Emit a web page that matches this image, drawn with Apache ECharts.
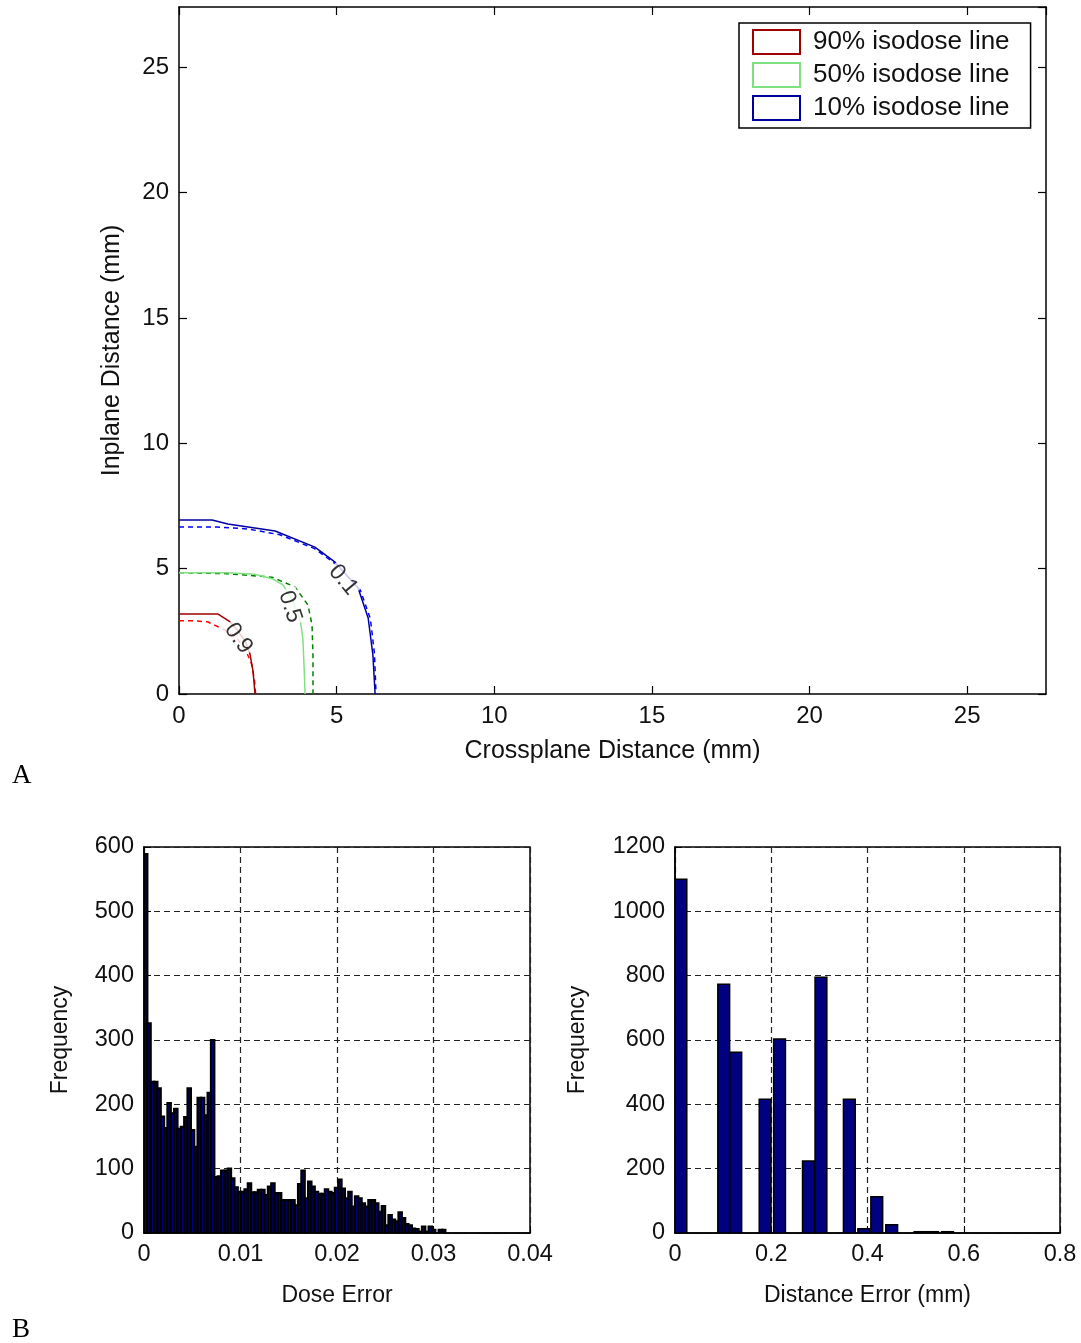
<!DOCTYPE html>
<html>
<head>
<meta charset="utf-8">
<script src="https://cdn.jsdelivr.net/npm/echarts@6/dist/echarts.min.js"></script>
<style>
  html, body { margin: 0; padding: 0; background: #fff; }
  #chart { width: 1081px; height: 1343px; }
</style>
</head>
<body>
<div id="chart"></div>
<script>
// isodose contours (x, y in mm), solid = calculated, dashed = measured
const iso90Solid = [[0, 3.19], [1.24, 3.19], [1.6, 2.9], [1.85, 2.55], [2.1, 2.1], [2.25, 1.6], [2.35, 0.9], [2.41, 0]];
const iso90Dashed = [[0, 2.92], [0.5, 2.92], [0.92, 2.87], [1.46, 2.55], [1.85, 2.2], [2.1, 1.8], [2.3, 1.2], [2.4, 0.5], [2.43, 0]];
const iso50Solid = [[0, 4.84], [1.5, 4.84], [2.4, 4.78], [2.95, 4.6], [3.3, 4.35], [3.62, 3.67], [3.84, 3.0], [3.93, 2.2], [3.97, 1.0], [4.0, 0]];
const iso50Dashed = [[0, 4.84], [1.5, 4.8], [2.95, 4.66], [3.68, 4.27], [4.09, 3.55], [4.22, 2.75], [4.25, 1.5], [4.25, 0]];
const iso10Solid = [[0, 6.94], [1.05, 6.94], [1.55, 6.78], [3.05, 6.5], [4.31, 5.86], [4.95, 5.26], [5.68, 4.23], [6.0, 3.03], [6.15, 1.56], [6.22, 0]];
const iso10Dashed = [[0, 6.66], [1.2, 6.66], [2.2, 6.58], [3.2, 6.35], [4.3, 5.8], [5.0, 5.15], [5.75, 4.15], [6.07, 3.0], [6.2, 1.6], [6.25, 0]];
const contourLabels = ['0.9', '0.5', '0.1'];
const contourLabelPos = [[1.88, 2.22], [3.52, 3.48], [5.21, 4.55]];
const legendNames = ['90% isodose line', '50% isodose line', '10% isodose line'];

// dose error histogram
const doseBinWidth = 0.000347;
const doseCounts = [589, 326, 235, 235, 225, 181, 163, 202, 186, 193,
  162, 165, 180, 225, 160, 134, 210, 210, 183, 218,
  300, 87, 88, 97, 97, 100, 85, 71, 64, 64,
  68, 77, 63, 63, 67, 67, 59, 72, 77, 62,
  62, 51, 51, 51, 51, 43, 76, 97, 54, 80,
  72, 64, 61, 61, 68, 64, 62, 70, 83, 69,
  54, 64, 41, 57, 54, 46, 41, 51, 51, 46,
  33, 42, 12, 28, 21, 18, 32, 23, 14, 12,
  7, 6, 2, 10, 2, 10, 5, 0, 5, 5];

// distance error histogram (bin left edge, count)
const distBinWidth = 0.0245;
const distLeft = [0, 0.089, 0.114, 0.175, 0.205, 0.265, 0.291, 0.35, 0.38, 0.407, 0.438, 0.497, 0.523, 0.554];
const distCounts = [1100, 773, 562, 416, 603, 224, 795, 416, 13, 113, 26, 4, 4, 4];

const font = "'Liberation Sans', Arial, sans-serif";
const chart = echarts.init(document.getElementById('chart'));

function histRender(width, edge) {
  return function (params, api) {
    const x0 = api.value(0);
    const v = api.value(1);
    const p0 = api.coord([x0, 0]);
    const p1 = api.coord([x0 + width, v]);
    return {
      type: 'rect',
      shape: { x: p0[0], y: p1[1], width: p1[0] - p0[0], height: p0[1] - p1[1] },
      style: { fill: '#000080', stroke: '#000', lineWidth: edge }
    };
  };
}

const axisLineStyle = { show: true, onZero: false, lineStyle: { color: '#000', width: 1.5 } };

function mainAxis(extra) {
  return Object.assign({
    type: 'value',
    axisLine: axisLineStyle,
    axisTick: { show: true, inside: true, length: 8, lineStyle: { color: '#000', width: 1.2 } },
    axisLabel: { color: '#111', fontFamily: font, fontSize: 24, margin: 10, showMaxLabel: false },
    splitLine: { show: false },
    nameLocation: 'middle',
    nameTextStyle: { color: '#111', fontFamily: font, fontSize: 25 }
  }, extra);
}

function mirrorAxis(extra) {
  return Object.assign({
    type: 'value',
    axisLine: axisLineStyle,
    axisTick: { show: true, inside: true, length: 8, lineStyle: { color: '#000', width: 1.2 } },
    axisLabel: { show: false },
    splitLine: { show: false }
  }, extra);
}

function histAxis(extra) {
  return Object.assign({
    type: 'value',
    axisLine: axisLineStyle,
    axisTick: { show: true, inside: true, length: 7, lineStyle: { color: '#000', width: 1 } },
    axisLabel: { color: '#111', fontFamily: font, fontSize: 23.5, margin: 10, formatter: v => String(v) },
    splitLine: { show: true, lineStyle: { color: '#222', width: 1.2, type: [6, 4] } },
    nameLocation: 'middle',
    nameTextStyle: { color: '#111', fontFamily: font, fontSize: 23 }
  }, extra);
}

function isoLine(name, data, color, dashed, z) {
  return {
    name: name,
    type: 'line',
    xAxisIndex: 0,
    yAxisIndex: 0,
    data: data,
    showSymbol: false,
    symbol: 'none',
    z: z,
    lineStyle: { color: color, width: 1.5, type: dashed ? [5, 4] : 'solid' },
    itemStyle: { color: color },
    silent: true
  };
}

const legendColors = ['#a00000', '#80e080', '#0000a0'];
const labelRotate = [-55, -72, -50];

const option = {
  backgroundColor: '#fff',
  animation: false,
  grid: [
    { left: 179, top: 7, width: 867, height: 687 },
    { left: 144, top: 847, width: 386, height: 386, show: true, borderColor: '#000', borderWidth: 1.5 },
    { left: 675, top: 847, width: 385, height: 386, show: true, borderColor: '#000', borderWidth: 1.5 }
  ],
  legend: {
    orient: 'vertical',
    left: 739,
    top: 23,
    padding: [6, 21, 7, 13],
    itemGap: 7,
    itemWidth: 47,
    itemHeight: 24,
    icon: 'rect',
    selectedMode: false,
    borderColor: '#000',
    borderWidth: 1.5,
    backgroundColor: '#fff',
    textStyle: { color: '#111', fontFamily: font, fontSize: 26, lineHeight: 26, padding: [0, 0, 0, 8] },
    data: legendNames.map((n, i) => ({
      name: n,
      itemStyle: { color: '#fff', borderColor: legendColors[i], borderWidth: 2 }
    }))
  },
  xAxis: [
    mainAxis({ gridIndex: 0, min: 0, max: 27.5, interval: 5, name: 'Crossplane Distance (mm)', nameGap: 45 }),
    mirrorAxis({ gridIndex: 0, position: 'top', min: 0, max: 27.5, interval: 5 }),
    histAxis({ gridIndex: 1, min: 0, max: 0.04, interval: 0.01, name: 'Dose Error', nameGap: 51 }),
    histAxis({ gridIndex: 2, min: 0, max: 0.8, interval: 0.2, name: 'Distance Error (mm)', nameGap: 51 })
  ],
  yAxis: [
    mainAxis({ gridIndex: 0, min: 0, max: 27.4, interval: 5, name: 'Inplane Distance (mm)', nameGap: 54 }),
    mirrorAxis({ gridIndex: 0, position: 'right', min: 0, max: 27.4, interval: 5 }),
    histAxis({ gridIndex: 1, min: 0, max: 600, interval: 100, name: 'Frequency', nameGap: 72 }),
    histAxis({ gridIndex: 2, min: 0, max: 1200, interval: 200, name: 'Frequency', nameGap: 86 })
  ],
  series: [
    isoLine('90% measured', iso90Dashed, '#ff0000', true, 2),
    isoLine(legendNames[0], iso90Solid, '#a00000', false, 3),
    isoLine('50% measured', iso50Dashed, '#008000', true, 2),
    isoLine(legendNames[1], iso50Solid, '#80e080', false, 3),
    isoLine('10% measured', iso10Dashed, '#0000ff', true, 2),
    isoLine(legendNames[2], iso10Solid, '#0000a0', false, 3),
    {
      type: 'scatter',
      xAxisIndex: 0,
      yAxisIndex: 0,
      symbolSize: 1,
      z: 5,
      silent: true,
      itemStyle: { color: 'rgba(0,0,0,0)' },
      data: contourLabels.map((t, i) => ({
        value: contourLabelPos[i],
        name: t,
        label: { rotate: labelRotate[i] }
      })),
      label: {
        show: true,
        position: 'inside',
        formatter: '{b}',
        color: '#000',
        fontFamily: font,
        fontSize: 23,
        backgroundColor: '#fff',
        padding: [0, 2]
      }
    },
    {
      type: 'custom',
      xAxisIndex: 2,
      yAxisIndex: 2,
      silent: true,
      clip: true,
      encode: { x: 0, y: 1 },
      renderItem: histRender(doseBinWidth, 2.2),
      data: doseCounts.map((c, i) => [i * doseBinWidth, c]).filter(d => d[1] > 0)
    },
    {
      type: 'custom',
      xAxisIndex: 3,
      yAxisIndex: 3,
      silent: true,
      clip: true,
      encode: { x: 0, y: 1 },
      renderItem: histRender(distBinWidth, 1.5),
      data: distLeft.map((x, i) => [x, distCounts[i]])
    }
  ],
  graphic: [
    { type: 'text', left: 12, top: 762, style: { text: 'A', fontFamily: "'Liberation Serif', 'Times New Roman', serif", fontSize: 27, fill: '#000' } },
    { type: 'text', left: 12, top: 1316, style: { text: 'B', fontFamily: "'Liberation Serif', 'Times New Roman', serif", fontSize: 27, fill: '#000' } }
  ]
};

chart.setOption(option);
</script>
</body>
</html>
